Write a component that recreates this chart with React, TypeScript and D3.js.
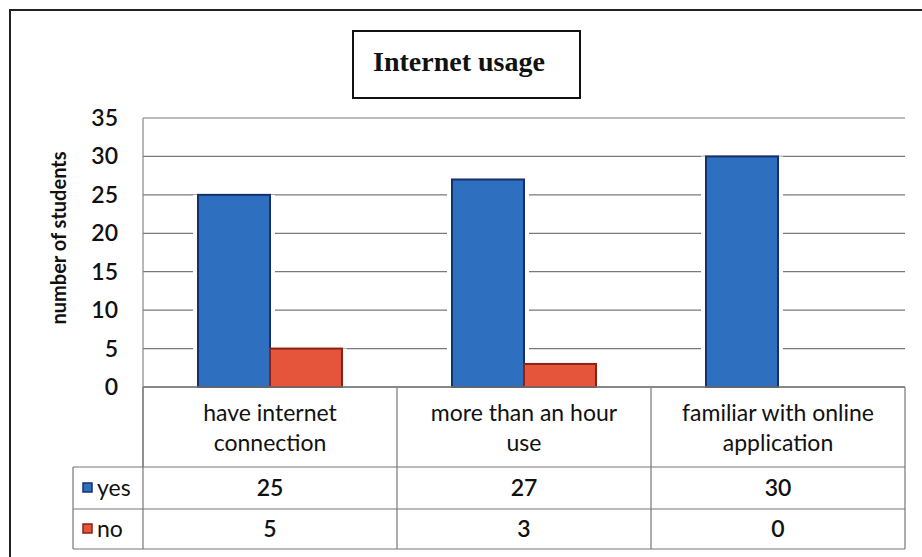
import React from "react";
import * as d3 from "d3";

const title = "Internet usage";
const categories = ["have internet connection", "more than an hour use", "familiar with online application"];
const categoryLines = [["have internet", "connection"], ["more than an hour", "use"], ["familiar with online", "application"]];
const seriesNames = ["yes", "no"];
const yesValues = [25, 27, 30];
const noValues = [5, 3, 0];
const yTicks = [0, 5, 10, 15, 20, 25, 30, 35];
const yLabel = "number of students";

const fills = ["#2f6fbf", "#e4553c"];
const strokes = ["#15306b", "#8a2216"];
const sans = "Lato, 'Open Sans', sans-serif";

export default function App() {
  const W = 922, H = 557;
  const left = 143, right = 905, top = 118, bottom = 387;
  const headerBottom = 467, row1Bottom = 509, row2Bottom = 549;
  const legendLeft = 73;

  const y = d3.scaleLinear().domain([0, 35]).range([bottom, top]);
  const x0 = d3.scaleBand<string>().domain(categories).range([left, right]).paddingInner(0.433).paddingOuter(0.2165);
  const x1 = d3.scaleBand<string>().domain(seriesNames).range([0, x0.bandwidth()]);
  const step = x0.step();
  const data = [yesValues, noValues];

  const colEdges = categories.map((_, i) => left + i * step).concat([right]);

  return (
    <svg width={W} height={H} style={{ position: "absolute", left: 0, top: 0, background: "#fff" }}>
      <rect x={0} y={0} width={W} height={H} fill="#fff" />
      {/* outer chart border */}
      <path d={`M10,${H} L10,10 L${W},10`} fill="none" stroke="#222" strokeWidth={2} />
      {/* title box */}
      <rect x={353} y={31} width={227} height={67} fill="#fff" stroke="#111" strokeWidth={2} />
      <text x={459} y={71} textAnchor="middle" fontFamily="'Liberation Serif', 'Times New Roman', serif" fontWeight="bold" fontSize={28} fill="#111">{title}</text>

      {/* gridlines */}
      {yTicks.map((t) => (
        <line key={t} x1={left} x2={right} y1={y(t)} y2={y(t)} stroke="#7a7a7a" strokeWidth={1.2} />
      ))}
      {/* left axis */}
      <line x1={left} x2={left} y1={top} y2={headerBottom} stroke="#888" strokeWidth={1.2} />

      {/* bars with white halo */}
      {categories.map((c, ci) => (
        <g key={c} transform={`translate(${x0(c)},0)`}>
          {seriesNames.map((s, si) => {
            const v = data[si][ci];
            if (v <= 0) return null;
            const bx = x1(s)!;
            const bw = x1.bandwidth();
            return (
              <rect key={s + "h"} x={bx - 5} y={y(v)} width={bw + 10} height={bottom - y(v) - 1} fill="#fff" />
            );
          })}
          {seriesNames.map((s, si) => {
            const v = data[si][ci];
            if (v <= 0) return null;
            const bx = x1(s)!;
            const bw = x1.bandwidth();
            return (
              <rect key={s} x={bx} y={y(v)} width={bw} height={bottom - y(v)} fill={fills[si]} stroke={strokes[si]} strokeWidth={2} />
            );
          })}
        </g>
      ))}
      <line x1={left} x2={right} y1={bottom} y2={bottom} stroke="#777" strokeWidth={1.5} />

      {/* y tick labels */}
      {yTicks.map((t) => (
        <text key={t} x={118} y={y(t)} dy="0.35em" textAnchor="end" fontFamily={sans} fontWeight={600} fontSize={23} fill="#111">{t}</text>
      ))}
      <text transform={`translate(66,238) rotate(-90)`} textAnchor="middle" fontFamily={sans} fontWeight="bold" fontSize={20} fill="#111">{yLabel}</text>

      {/* data table */}
      {colEdges.map((xe, i) => (
        <line key={i} x1={xe} x2={xe} y1={bottom} y2={row2Bottom} stroke="#777" strokeWidth={1.2} />
      ))}
      <line x1={legendLeft} x2={legendLeft} y1={headerBottom} y2={row2Bottom} stroke="#777" strokeWidth={1.2} />
      {[headerBottom, row1Bottom, row2Bottom].map((yy) => (
        <line key={yy} x1={legendLeft} x2={right} y1={yy} y2={yy} stroke="#777" strokeWidth={1.2} />
      ))}
      {categories.map((c, ci) => (
        <text key={c} textAnchor="middle" fontFamily={sans} fontSize={23} fill="#111">
          {categoryLines[ci].map((ln, li) => (
            <tspan key={li} x={left + (ci + 0.5) * step} y={421 + li * 30}>{ln}</tspan>
          ))}
        </text>
      ))}
      {seriesNames.map((s, si) => {
        const rowTop = si === 0 ? headerBottom : row1Bottom;
        const rowBot = si === 0 ? row1Bottom : row2Bottom;
        const cy = (rowTop + rowBot) / 2;
        return (
          <g key={s}>
            <rect x={83} y={cy - 5} width={9} height={9} fill={fills[si]} stroke={strokes[si]} strokeWidth={1.5} />
            <text x={97} y={cy} dy="0.35em" fontFamily={sans} fontSize={23} fill="#111">{s}</text>
            {categories.map((c, ci) => (
              <text key={c} x={left + (ci + 0.5) * step} y={cy} dy="0.35em" textAnchor="middle" fontFamily={sans} fontWeight={600} fontSize={23} fill="#111">{data[si][ci]}</text>
            ))}
          </g>
        );
      })}
    </svg>
  );
}
